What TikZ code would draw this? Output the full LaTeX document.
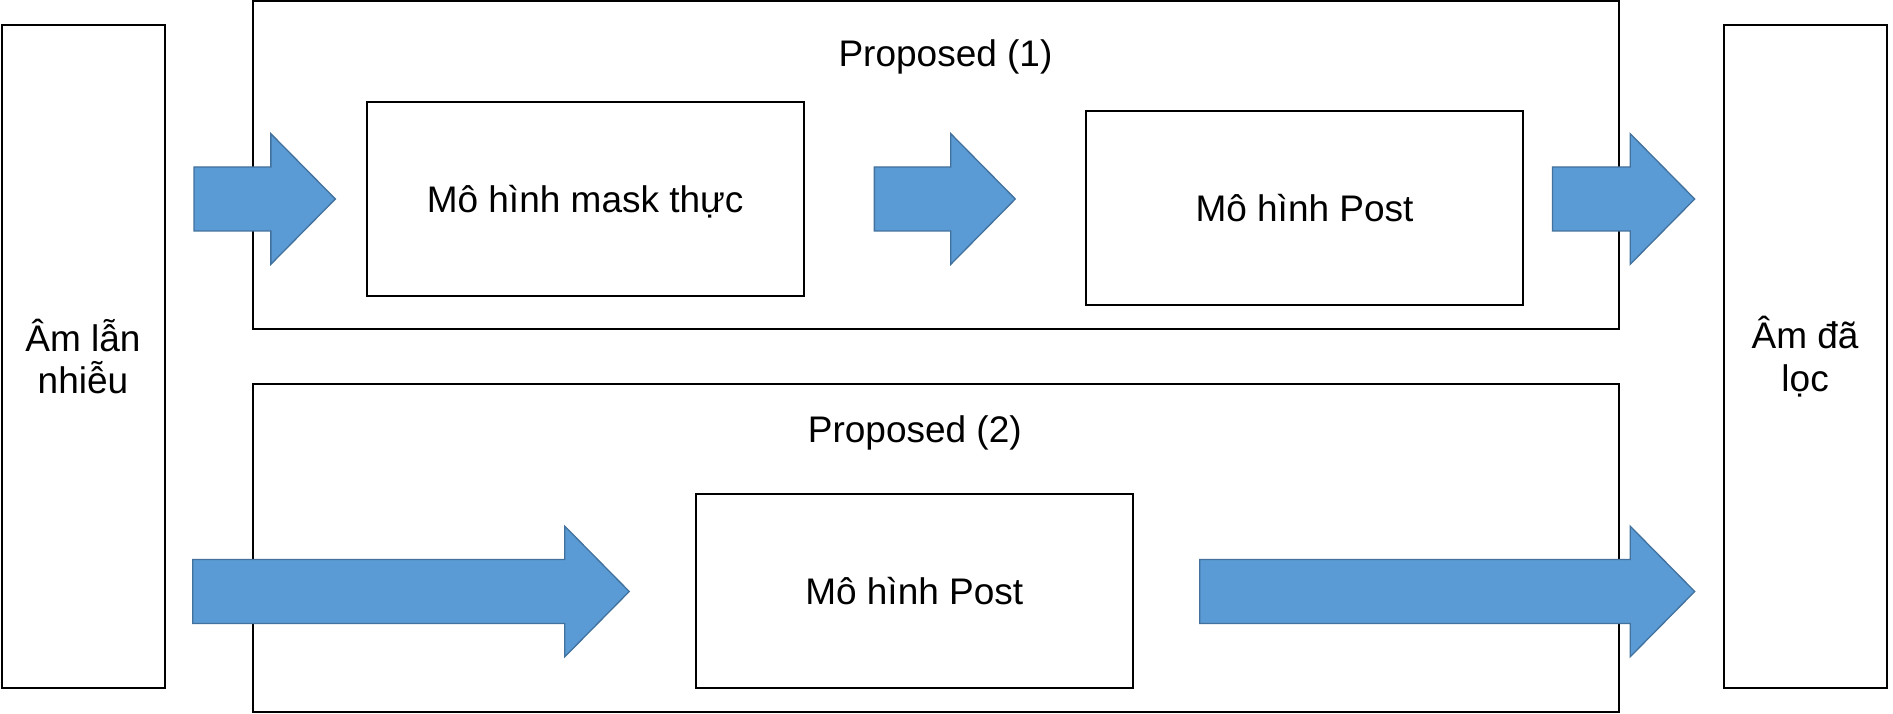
\documentclass[tikz,border=0pt]{standalone}
\usepackage{fontspec}
\setmainfont{Liberation Sans}
\usetikzlibrary{calc}
\definecolor{arrowfill}{HTML}{5B9BD5}
\definecolor{arrowedge}{HTML}{41719C}
\tikzset{
  boxnode/.style = {draw, line width=2pt, inner sep=0pt},
  modelbox/.style = {boxnode, minimum width=437pt, minimum height=194pt,
    text height=26.5pt, text depth=0pt},
  sidebox/.style = {boxnode, minimum width=163pt, minimum height=663.5pt, align=center},
  groupbox/.style = {boxnode, minimum width=1366pt, minimum height=328pt},
  bigarrow/.style = {fill=arrowfill, draw=arrowedge, line width=1.3pt, line join=miter,
    to path={-- ($(\tikztostart)+(0,32)$) -- ($(\tikztotarget)+(-64.5,32)$)
      -- ($(\tikztotarget)+(-64.5,65.3)$) -- (\tikztotarget)
      -- ($(\tikztotarget)+(-64.5,-65.3)$) -- ($(\tikztotarget)+(-64.5,-32)$)
      -- ($(\tikztostart)+(0,-32)$) -- cycle}}
}

\begin{document}
\begin{tikzpicture}[x=1pt, y=1pt, font=\fontsize{37}{42.5}\selectfont]
\useasboundingbox (0,0) rectangle (1893,714);
% input and output
\node[sidebox] (inbox) at (83,357.25) {Âm lẫn\\nhiễu};
\node[sidebox] (outbox) at (1805.1,357.25) {Âm đã\\lọc};
% the two proposals
\node[groupbox] (prop1) at (935.75,549.15) {};
\node[groupbox] (prop2) at (935.75,165.7) {};
\node[anchor=base] (title1) at (945.5,647.5) {Proposed (1)};
\node[anchor=base] (title2) at (914.8,271.4) {Proposed (2)};
\node[modelbox] (mask) at (585.15,515) {Mô hình mask thực};
\node[modelbox] (post1) at (1304.5,505.65) {Mô hình Post};
\node[modelbox] (post2) at (914.25,122.5) {Mô hình Post};
% arrows
\draw[bigarrow] ([xshift=28.5pt]inbox.east |- mask.center) to ([xshift=-30.3pt]mask.west);
\draw[bigarrow] ([xshift=69.7pt]mask.east) to ([xshift=-69.7pt]post1.west |- mask.center);
\draw[bigarrow] ([xshift=28.5pt]post1.east |- mask.center) to ([xshift=-27.9pt]outbox.west |- mask.center);
\draw[bigarrow] ([xshift=27.3pt]inbox.east |- post2.center) to ([xshift=-65.5pt]post2.west);
\draw[bigarrow] ([xshift=66pt]post2.east) to ([xshift=-27.9pt]outbox.west |- post2.center);
\end{tikzpicture}
\end{document}
